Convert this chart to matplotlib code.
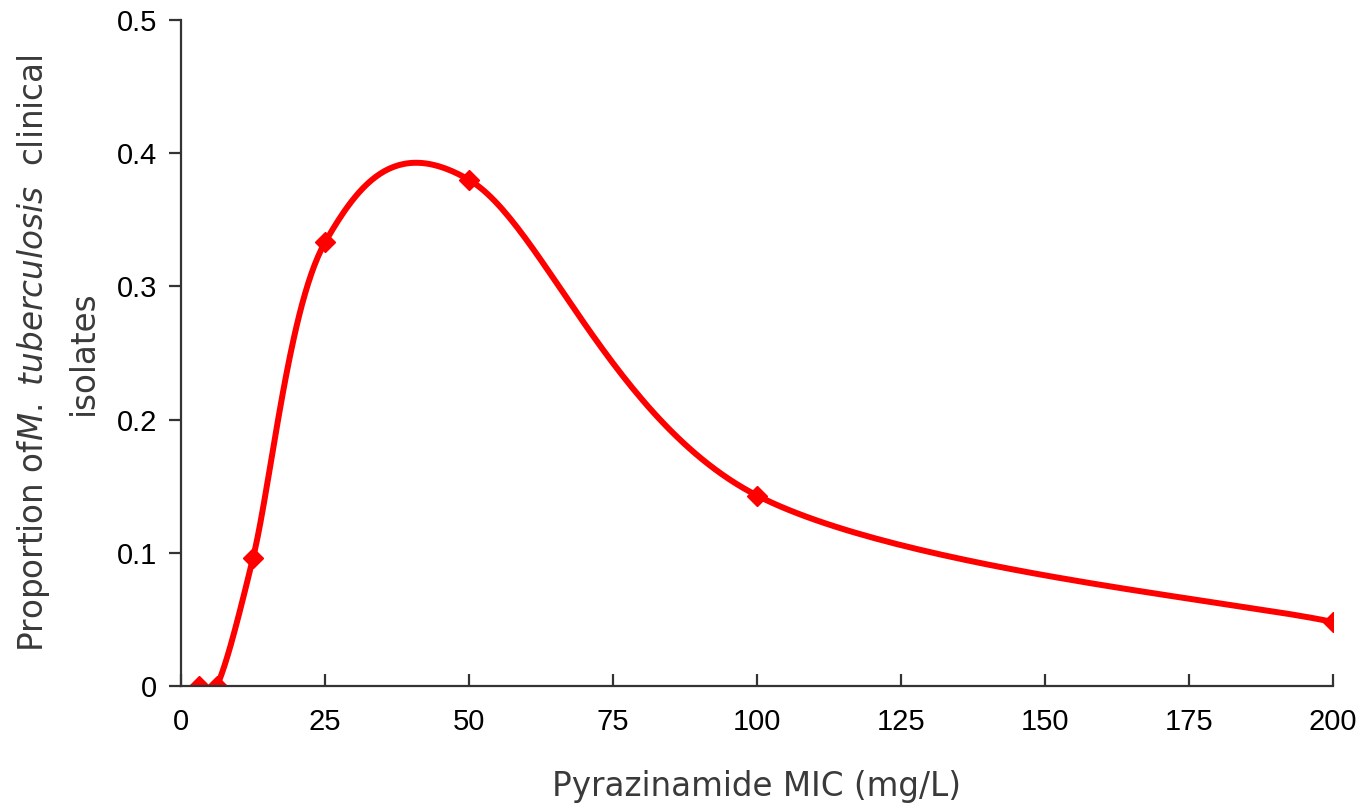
import numpy as np
import matplotlib
matplotlib.use("Agg")
import matplotlib.pyplot as plt

# MIC values (mg/L) and proportion of isolates
mic = [3.125, 6.25, 12.5, 25, 50, 100, 200]
proportion = [0.0, 0.0, 0.096, 0.333, 0.38, 0.143, 0.048]

x_ticks = [0, 25, 50, 75, 100, 125, 150, 175, 200]
y_ticks = [0, 0.1, 0.2, 0.3, 0.4, 0.5]


def smooth_curve(xs, ys, n=60):
    """Excel-style smoothed line: cubic Bezier with Catmull-Rom control points"""
    p = np.column_stack([xs, ys]).astype(float)
    p_ext = np.vstack([p[0], p, p[-1]])
    t = np.linspace(0, 1, n)[:, None]
    out = []
    for i in range(len(p) - 1):
        p0, p1, p2, p3 = p_ext[i], p_ext[i + 1], p_ext[i + 2], p_ext[i + 3]
        c1 = p1 + (p2 - p0) / 6.0
        c2 = p2 - (p3 - p1) / 6.0
        seg = ((1 - t) ** 3) * p1 + 3 * ((1 - t) ** 2) * t * c1 \
            + 3 * (1 - t) * t ** 2 * c2 + t ** 3 * p2
        out.append(seg if i == 0 else seg[1:])
    out = np.vstack(out)
    return out[:, 0], out[:, 1]


plt.rcParams['font.family'] = ['Liberation Sans', 'DejaVu Sans']
plt.rcParams['mathtext.fontset'] = 'custom'
plt.rcParams['mathtext.rm'] = 'DejaVu Sans'
plt.rcParams['mathtext.it'] = 'DejaVu Sans:italic'

fig = plt.figure(figsize=(13.62, 8.08), dpi=100)
ax = fig.add_axes([181 / 1362, 122 / 808, 1152 / 1362, 666 / 808])

sx, sy = smooth_curve(mic, proportion)
ax.plot(sx, sy, color='#ff0000', linewidth=4.3, solid_capstyle='round')
ax.plot(mic, proportion, linestyle='none', marker='D', markersize=10.5,
        color='#ff0000')

ax.set_xlim(0, 200)
ax.set_ylim(0, 0.5)
ax.set_xticks(x_ticks)
ax.set_yticks(y_ticks)
ax.set_xticklabels([str(v) for v in x_ticks])
ax.set_yticklabels(['0' if v == 0 else f'{v:.1f}' for v in y_ticks])

for side in ['top', 'right']:
    ax.spines[side].set_visible(False)
for side in ['left', 'bottom']:
    ax.spines[side].set_color('#333333')
    ax.spines[side].set_linewidth(1.6)

ax.tick_params(axis='x', direction='in', length=9, width=1.6, color='#333333',
               labelsize=21, pad=16)
ax.tick_params(axis='y', direction='out', length=9, width=1.6, color='#333333',
               labelsize=21, pad=8)

label_font = {'family': ['DejaVu Sans'], 'size': 23.5, 'color': '#3a3a3a'}
ax.set_xlabel('Pyrazinamide MIC (mg/L)', fontdict=label_font, labelpad=24)
ax.set_ylabel('Proportion of$\\it{M.\\ tuberculosis}$  clinical\nisolates',
              fontdict=label_font, labelpad=12, linespacing=1.6)

fig.savefig('out.png', dpi=100)
